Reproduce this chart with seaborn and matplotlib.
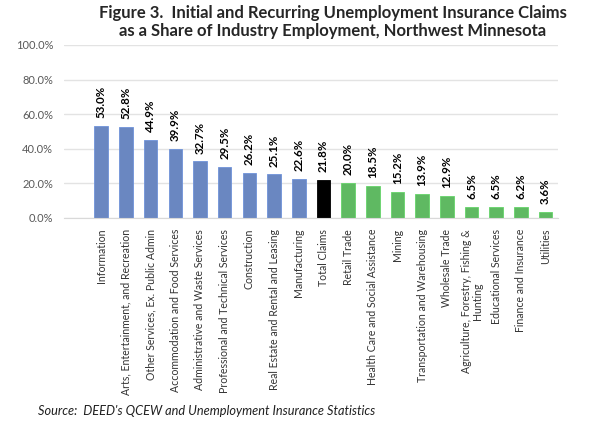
import seaborn as sns
import matplotlib.pyplot as plt
import pandas as pd

industries = ['Information', 'Arts, Entertainment, and Recreation', 'Other Services, Ex. Public Admin',
              'Accommodation and Food Services', 'Administrative and Waste Services',
              'Professional and Technical Services', 'Construction', 'Real Estate and Rental and Leasing',
              'Manufacturing', 'Total Claims', 'Retail Trade', 'Health Care and Social Assistance',
              'Mining', 'Transportation and Warehousing', 'Wholesale Trade',
              'Agriculture, Forestry, Fishing &\nHunting', 'Educational Services',
              'Finance and Insurance', 'Utilities']
shares = [53.0, 52.8, 44.9, 39.9, 32.7, 29.5, 26.2, 25.1, 22.6, 21.8,
          20.0, 18.5, 15.2, 13.9, 12.9, 6.5, 6.5, 6.2, 3.6]
groups = ['above'] * 9 + ['total'] + ['below'] * 9

df = pd.DataFrame({'industry': industries, 'share': shares, 'group': groups})
palette = {'above': '#5B82D0', 'total': '#000000', 'below': '#50C854'}
edges = {'above': '#6F93DA', 'total': '#000000', 'below': '#66D46A'}

sns.set_style('white')
plt.rcParams['font.family'] = ['Lato', 'DejaVu Sans']

fig = plt.figure(figsize=(6, 4.28), dpi=100)
ax = fig.add_axes([0.107, 0.491, 0.823, 0.404])
sns.barplot(data=df, x='industry', y='share', hue='group', palette=palette,
            dodge=False, legend=False, width=0.55, ax=ax, linewidth=0.6)
for p, g in zip(ax.patches, groups):
    p.set_edgecolor(edges[g])

for i, v in enumerate(shares):
    ax.text(i, v + 4.5, f'{v:.1f}%', rotation=90, ha='center', va='bottom',
            fontsize=8.3, fontweight='bold', color='black')

ax.set_ylim(0, 100)
ax.set_xlim(-1.5, len(industries) - 0.5)
ax.set_yticks(range(0, 101, 20))
ax.set_yticklabels([f'{t:.1f}%' for t in range(0, 101, 20)], fontsize=8, color='#595959')
ax.set_xticks(range(len(industries)))
ax.set_xticklabels(industries, rotation=90, fontsize=7.6, color='#333333', linespacing=1.0)
ax.tick_params(axis='y', length=0, pad=8)
ax.tick_params(axis='x', length=0, pad=8)
ax.yaxis.grid(True, color='#e3e3e3', linewidth=1.0)
ax.set_axisbelow(True)
for s in ['top', 'right', 'left']:
    ax.spines[s].set_visible(False)
ax.spines['bottom'].set_color('#d9d9d9')
ax.set_xlabel('')
ax.set_ylabel('')

fig.text(0.555, 0.988, 'Figure 3.  Initial and Recurring Unemployment Insurance Claims\n'
         'as a Share of Industry Employment, Northwest Minnesota',
         ha='center', va='top', fontsize=12, fontweight='bold', linespacing=1.15)
fig.text(0.063, 0.04, "Source:  DEED's QCEW and Unemployment Insurance Statistics",
         ha='left', va='center', fontsize=9.2, style='italic', color='#202020')

fig.savefig('out.png', dpi=100)
